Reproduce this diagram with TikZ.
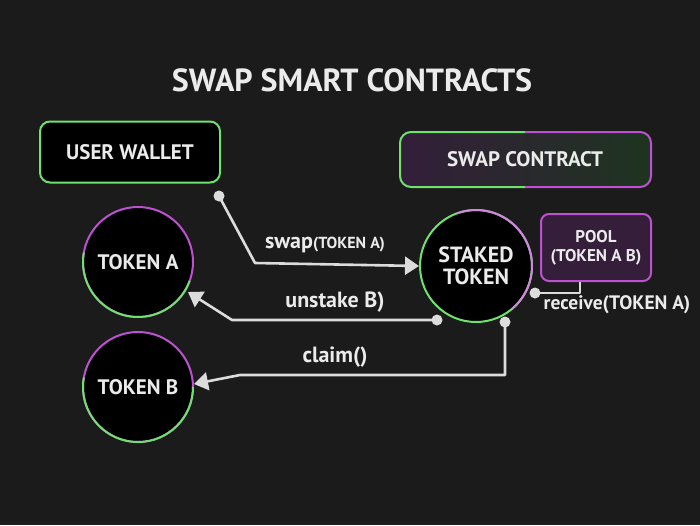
\documentclass[tikz,border=0pt]{standalone}
\usepackage{fontspec}
\setmainfont{PT Sans}
\usetikzlibrary{arrows.meta}
\definecolor{bg}{RGB}{28,27,28}
\definecolor{gr}{RGB}{110,225,110}
\definecolor{pu}{RGB}{190,80,210}
\definecolor{ln}{RGB}{220,220,220}
\definecolor{dpu}{RGB}{52,30,58}
\definecolor{dgr}{RGB}{30,52,32}
\begin{document}
\begin{tikzpicture}[x=1pt,y=-1pt,
  txt/.style={text=white!92!black,font=\bfseries},
  tok/.style={circle,draw,line width=2pt,fill=black,minimum size=110pt,inner sep=0pt,txt,font=\bfseries\fontsize{21}{22}\selectfont,align=center},
  conn/.style={draw=ln,line width=2.6pt,line join=round},
  arr/.style={conn,-{Triangle[length=14pt,width=18pt]}},
  dot/.style={circle,fill=ln,inner sep=0pt,minimum size=11pt},
  lab/.style={txt,font=\bfseries\fontsize{22}{23}\selectfont}]
\fill[bg] (0,0) rectangle (700,525);
\useasboundingbox (0,0) rectangle (700,525);
\node[txt,font=\bfseries\fontsize{32}{34}\selectfont] (title) at (352,80) {SWAP SMART CONTRACTS};
\node[draw=gr,line width=2pt,fill=black,rounded corners=10pt,minimum width=180pt,minimum height=61pt,txt,font=\bfseries\fontsize{21}{22}\selectfont] (wallet) at (130,152) {USER WALLET};
\shade[left color=dpu,right color=dgr,rounded corners=11pt] (400,132) rectangle (651,187);
\draw[line width=2pt,rounded corners=11pt,gr] (525,132) -- (400,132) -- (400,187) -- (525,187);
\draw[line width=2pt,rounded corners=11pt,pu] (525,132) -- (651,132) -- (651,187) -- (525,187);
\node[txt,font=\bfseries\fontsize{21}{22}\selectfont] (contract) at (525,159) {SWAP CONTRACT};
\node[tok,draw=pu] (ta) at (138,262) {TOKEN A};
\draw[gr,line width=2pt] (ta.center) ++(20:55) arc (20:190:55);
\node[tok,draw=pu] (tb) at (138,387) {TOKEN B};
\draw[gr,line width=2pt] (tb.center) ++(0:55) arc (0:190:55);
\node[tok,draw=gr,minimum size=112pt,font=\bfseries\fontsize{22}{22}\selectfont] (st) at (476,266) {STAKED\\TOKEN};
\draw[pu!70!white,line width=2pt] (st.center) ++(-110:56) arc (-110:50:56);
\node[draw=pu,line width=2pt,fill=dpu,rounded corners=8pt,minimum width=110pt,minimum height=67pt,txt,align=center,font=\bfseries\fontsize{17}{19}\selectfont] (pool) at (596,247.5) {POOL\\(TOKEN A B)};
% connectors
\node[dot] (d1) at (219,196) {};
\coordinate (e1) at (st.west);
\draw[arr] (d1.center) -- (255,263) -- (e1);
\node[lab] (l1) at (325,245) {swap\fontsize{16}{17}\selectfont(TOKEN A)};
\node[dot] (d2) at (437,320) {};
\draw[arr] (d2.center) -- (232,320) -- (188,292);
\node[lab] (l2) at (335,302) {unstake B)};
\node[dot] (d3) at (505,322) {};
\draw[arr] (d3.center) -- (505,375) -- (240,375) -- (194,384);
\node[lab] (l3) at (335,357) {claim()};
\node[dot] (d4) at (535,293) {};
\draw[conn] (d4.center) -- (580,293) -- (pool.south -| 580,0);
\node[lab,font=\bfseries\fontsize{19.5}{20}\selectfont] (l4) at (617,305) {receive(TOKEN A)};
\end{tikzpicture}
\end{document}
